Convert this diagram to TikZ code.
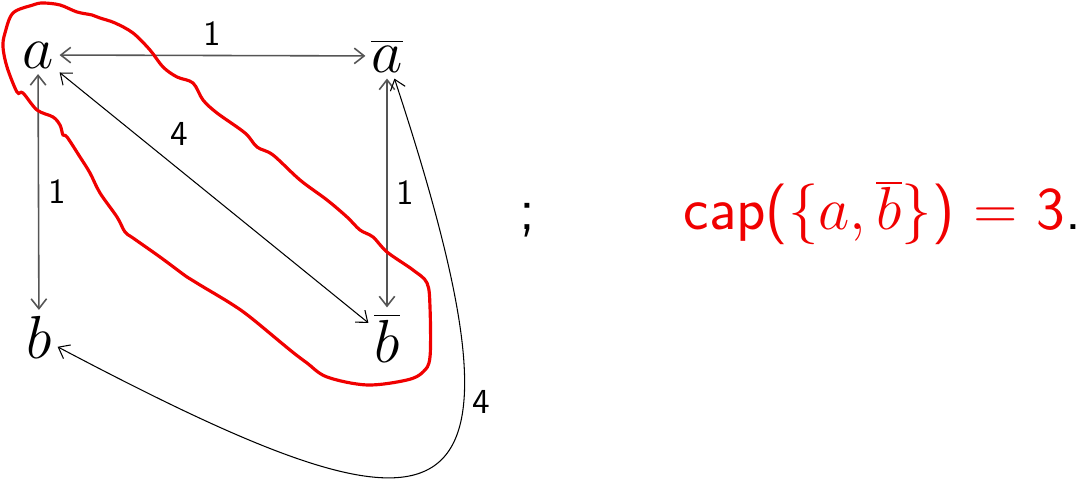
\documentclass[tikz,border=0pt]{standalone}
\usepackage{tikz}
\usetikzlibrary{arrows.meta,positioning}
\definecolor{edgegray}{RGB}{85,85,85}
\definecolor{cutred}{RGB}{240,0,0}

\begin{document}
\begin{tikzpicture}[x=0.01cm,y=-0.01cm,
    vert/.style={inner sep=1.5pt,font=\LARGE},
    arc/.style={{Straight Barb[length=2.8pt,width=4.4pt]}-{Straight Barb[length=2.8pt,width=4.4pt]},line width=0.3pt},
    grayarc/.style={arc,draw=edgegray,line width=0.45pt},
    lbl/.style={font=\sffamily,inner sep=2.5pt,text=black}]
  \useasboundingbox (0,0) rectangle (1090,480);
  % vertices
  \node[vert] (a) at (38,55) {$a$};
  \node[vert] (abar) at (387,56) {$\overline{a}$};
  \node[vert] (b) at (39,337) {$b$};
  \node[vert] (bbar) at (387,338) {$\overline{b}$};
  % edges with capacities
  \draw[grayarc] (a) -- node[lbl,above] {1} (abar);
  \draw[grayarc] (a) -- node[lbl,right] {1} (b);
  \draw[grayarc] (abar) -- node[lbl,right] {1} (bbar);
  \draw[arc] (a) -- node[lbl,pos=0.33,above right] {4} (bbar);
  \draw[arc] (abar) .. controls (550,550) and (450,554) .. node[lbl,pos=0.33,right] {4} (b);
  % the cut
  \draw[cutred,line width=0.9pt] plot[smooth cycle,tension=0.55] coordinates {
    (3,47) (5,33) (13,13) (33,5) (43,3) (60,5) (77,12) (92,15) (100,18)
    (115,23) (133,33) (150,50) (163,67) (177,77) (193,83) (203,100) (217,113)
    (245,133) (257,147) (273,155) (300,180) (327,200) (347,217) (360,230)
    (373,237) (387,252) (413,270) (427,283) (430,307) (430,357) (423,372)
    (407,380) (367,385) (327,377) (307,363) (290,350) (250,317) (230,303)
    (200,285) (187,277) (160,257) (133,238) (125,232) (117,217) (100,193)
    (90,173) (80,157) (67,137) (63,135) (60,125) (53,117) (37,110) (23,93)
    (17,92) (7,67)};
  % capacity of the cut
  \node[font=\LARGE\sffamily,anchor=base] (semi) at (527,230) {;};
  \node[font=\LARGE\sffamily,anchor=base west,inner sep=0pt] (cap) at (683,230)
    {\textcolor{cutred}{cap($\{a,\overline{b}\}$) = 3}.};
\end{tikzpicture}
\end{document}
